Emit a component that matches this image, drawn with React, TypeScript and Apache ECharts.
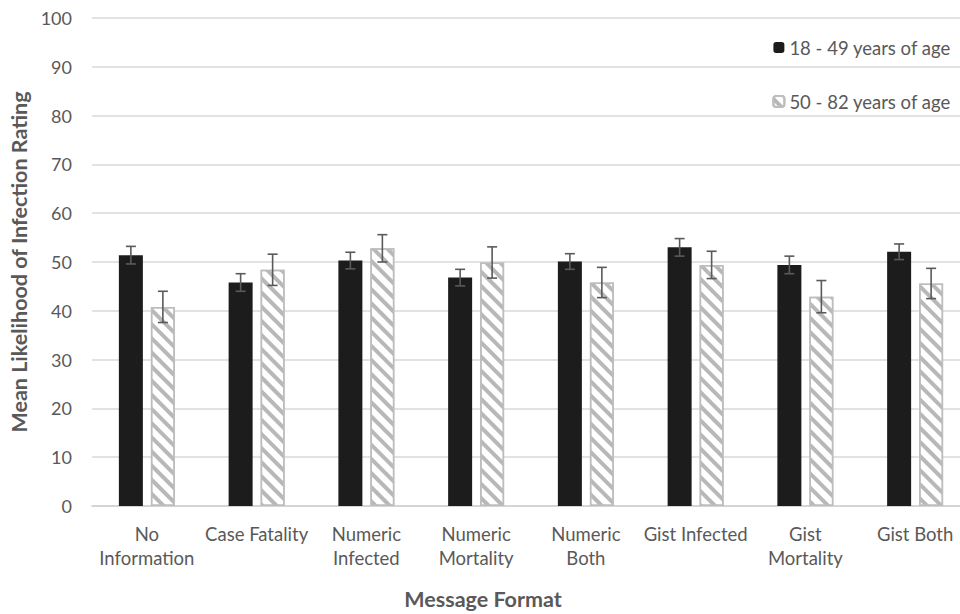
import React, { useEffect, useRef } from "react";
import * as echarts from "echarts";

const categories = [
  "No\nInformation",
  "Case Fatality",
  "Numeric\nInfected",
  "Numeric\nMortality",
  "Numeric\nBoth",
  "Gist Infected",
  "Gist\nMortality",
  "Gist Both",
];
const youngMeans = [51.4, 45.8, 50.3, 46.8, 50.1, 53.0, 49.4, 52.1];
const youngErr = [1.8, 1.8, 1.7, 1.7, 1.6, 1.8, 1.8, 1.6];
const olderMeans = [40.8, 48.4, 52.8, 49.9, 45.8, 49.4, 42.9, 45.6];
const olderErr = [3.2, 3.2, 2.8, 3.2, 3.1, 2.8, 3.3, 3.1];
const seriesNames = ["18 - 49 years of age", "50 - 82 years of age"];

const FONT = "Lato, 'Open Sans', sans-serif";
const TEXT = "#595959";
const BAR_W = 24;
const GAP = 8;

function errorSeries(means: number[], errs: number[], dir: number) {
  const data = means.map((m, i) => [i, m - errs[i], m + errs[i]]);
  return {
    type: "custom",
    silent: true,
    z: 10,
    data,
    renderItem: (params: any, api: any) => {
      const i = api.value(0);
      const lo = api.coord([i, api.value(1)]);
      const hi = api.coord([i, api.value(2)]);
      const x = lo[0] + dir * (BAR_W + GAP) / 2;
      const cap = 5;
      const st = { stroke: "#5a5a5a", lineWidth: 1.6 };
      return {
        type: "group",
        children: [
          { type: "line", shape: { x1: x, y1: lo[1], x2: x, y2: hi[1] }, style: st },
          { type: "line", shape: { x1: x - cap, y1: lo[1], x2: x + cap, y2: lo[1] }, style: st },
          { type: "line", shape: { x1: x - cap, y1: hi[1], x2: x + cap, y2: hi[1] }, style: st },
        ],
      };
    },
  };
}

export default function App() {
  const ref = useRef<HTMLDivElement>(null);
  useEffect(() => {
    document.body.style.margin = "0";
    const chart = echarts.init(ref.current!, undefined, { renderer: "svg" });
    chart.setOption({
      animation: false,
      backgroundColor: "#ffffff",
      textStyle: { fontFamily: FONT },
      grid: { left: 92, top: 18, width: 878, height: 488, outerBoundsMode: "none", containLabel: false },
      legend: {
        orient: "vertical",
        right: 4,
        top: 33,
        itemWidth: 11,
        itemHeight: 11,
        itemGap: 35,
        data: seriesNames,
        textStyle: { fontSize: 18.5, color: TEXT, fontFamily: FONT },
      },
      xAxis: {
        type: "category",
        data: categories,
        axisTick: { show: false },
        axisLine: { lineStyle: { color: "#d0d0d0", width: 1.5 } },
        axisLabel: { fontSize: 18.5, color: TEXT, margin: 16, lineHeight: 24, interval: 0, fontFamily: FONT },
        name: "Message Format",
        nameLocation: "middle",
        nameGap: 82,
        nameTextStyle: {
          fontSize: 21.5,
          fontWeight: "bold",
          color: TEXT,
          fontFamily: FONT,
          padding: [0, 96, 0, 0],
        },
      },
      yAxis: {
        type: "value",
        min: 0,
        max: 100,
        interval: 10,
        axisLine: { show: false },
        axisTick: { show: false },
        splitLine: { lineStyle: { color: "#d9d9d9", width: 1.5 } },
        axisLabel: { fontSize: 18, color: TEXT, margin: 20, fontFamily: FONT },
        name: "Mean Likelihood of Infection Rating",
        nameLocation: "middle",
        nameGap: 62,
        nameTextStyle: { fontSize: 21.5, fontWeight: "bold", color: TEXT, fontFamily: FONT },
      },
      series: [
        {
          name: seriesNames[0],
          type: "bar",
          data: youngMeans,
          barWidth: BAR_W,
          barGap: (GAP / BAR_W) * 100 + "%",
          itemStyle: { color: "#1c1c1c" },
        },
        {
          name: seriesNames[1],
          type: "bar",
          data: olderMeans,
          barWidth: BAR_W,
          itemStyle: {
            color: "#ffffff",
            borderColor: "#bdbdbd",
            borderWidth: 1.5,
            decal: {
              symbol: "rect",
              symbolSize: 1,
              color: "#b8b8b8",
              dashArrayX: [1, 0],
              dashArrayY: [4, 6],
              rotation: Math.PI / 4,
            },
          },
        },
        errorSeries(youngMeans, youngErr, -1),
        errorSeries(olderMeans, olderErr, 1),
      ],
    });
    return () => chart.dispose();
  }, []);
  return (
    <div
      ref={ref}
      style={{ position: "absolute", left: 0, top: 0, width: 960, height: 614 }}
    />
  );
}
